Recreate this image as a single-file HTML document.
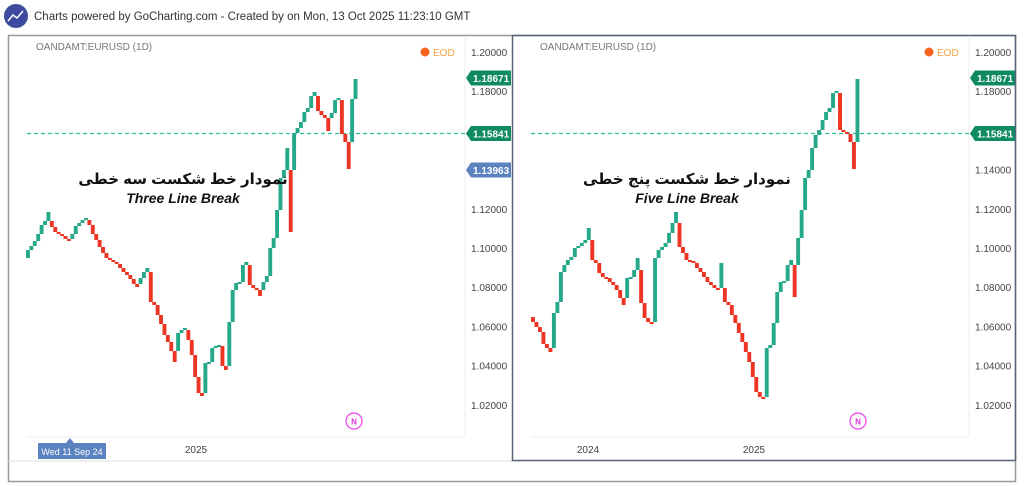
<!DOCTYPE html>
<html><head><meta charset="utf-8"><style>
body{margin:0;background:#fff;width:1024px;height:486px;overflow:hidden}
svg{display:block}
text{font-family:"Liberation Sans","DejaVu Sans",sans-serif}
</style></head><body>
<svg id="s" width="1024" height="486" xmlns="http://www.w3.org/2000/svg">
<rect width="1024" height="486" fill="#fff"/>
<circle cx="16" cy="16" r="12" fill="#3d4aa0"/>
<polyline points="8,21 13,15 17,18 23,11" fill="none" stroke="#fff" stroke-width="1.5"/>
<text x="34" y="20" font-size="11.5" fill="#333">Charts powered by GoCharting.com - Created by  on Mon, 13 Oct 2025 11:23:10 GMT</text>
<rect x="8.5" y="35.5" width="1007" height="446" fill="none" stroke="#999" stroke-width="1.5"/>
<line x1="8" y1="461" x2="1016" y2="461" stroke="#ddd"/>
<rect x="512.5" y="35.5" width="503" height="425" fill="none" stroke="#5a6478" stroke-width="1.5"/>
<g id="L"></g><g id="R"></g>
</svg>
<script>
var NS="http://www.w3.org/2000/svg";
function el(p,t,a,txt){var e=document.createElementNS(NS,t);for(var k in a)e.setAttribute(k,a[k]);if(txt)e.textContent=txt;p.appendChild(e);return e;}
function Y(p){return 52+(1.2-p)/0.02*39.2;}
function panel(g,ox,plotR,data,start,x0,x1,fa,en,xlabels){
 el(g,"line",{x1:plotR,y1:36,x2:plotR,y2:437,stroke:"#eee"});
 el(g,"line",{x1:ox+19,y1:437,x2:plotR,y2:437,stroke:"#eee"});
 [1.2,1.18,1.16,1.14,1.12,1.1,1.08,1.06,1.04,1.02].forEach(function(p){
  el(g,"text",{x:plotR+6,y:Y(p)+4,"font-size":10,fill:"#444"},p.toFixed(5));});
 el(g,"text",{x:ox+28,y:50,"font-size":10,fill:"#777"},"OANDAMT:EURUSD (1D)");
 el(g,"circle",{cx:ox+417,cy:52,r:4.5,fill:"#f7651e"});
 el(g,"text",{x:ox+425,y:56,"font-size":10,fill:"#f3a33a"},"EOD");
 el(g,"line",{x1:ox+19,y1:133.5,x2:plotR,y2:133.5,stroke:"#2fbf9c","stroke-width":1.2,"stroke-dasharray":"4,3"});
 var n=data.length,step=(x1-x0)/n,prevOpen=start,prevClose=start,dir=0;
 for(var i=0;i<n;i++){
  var c=data[i],d=c<prevClose?1:-1,o;
  if(dir!==0&&d!==dir)o=prevOpen;else o=prevClose;
  d=c<o?1:-1;
  var x=x0+i*step;
  el(g,"rect",{x:x,y:Math.min(o,c),width:3.9,height:Math.max(2,Math.abs(c-o)),fill:d==1?"#26a98b":"#ee3524"});
  prevOpen=o;prevClose=c;dir=d;}
 function lab(y,t,col){el(g,"polygon",{points:(plotR+1)+","+y+" "+(plotR+6)+","+(y-7.5)+" "+(plotR+46)+","+(y-7.5)+" "+(plotR+46)+","+(y+7.5)+" "+(plotR+6)+","+(y+7.5),fill:col});
  el(g,"text",{x:plotR+8,y:y+4,"font-size":10,fill:"#fff","font-weight":"bold"},t);}
 lab(78,"1.18671","#0f8a63");lab(133.5,"1.15841","#0f8a63");
 el(g,"circle",{cx:ox+346,cy:421,r:8,fill:"none",stroke:"#f03cf0","stroke-width":1.2});
 el(g,"text",{x:ox+346,y:424.5,"font-size":8,fill:"#e030e0","text-anchor":"middle","font-weight":"bold"},"N");
 el(g,"text",{x:ox+175,y:184,"font-size":15,"font-weight":"bold","text-anchor":"middle",fill:"#111","font-family":"DejaVu Sans,sans-serif"},fa);
 el(g,"text",{x:ox+175,y:203,"font-size":14,"font-weight":"bold","font-style":"italic","text-anchor":"middle",fill:"#111"},en);
 xlabels.forEach(function(l){el(g,"text",{x:l[0],y:453,"font-size":10,fill:"#444","text-anchor":"middle"},l[1]);});
}
var L=[250,246,241,234,225,221,212,227,232,234,236,239,241,234,226,223,220,218,225,234,240,247,253,258,260,262,264,268,272,275,279,284,287,278,272,268,302,305,315,324,335,342,351,362,333,330,328,340,355,377,393,396,363,362,348,346,345,366,370,322,290,283,282,265,262,285,288,290,296,282,276,248,238,210,178,170,148,232,133,128,122,112,108,96,92,111,115,118,131,113,100,98,134,142,169,99,79];
var R=[322,327,332,344,348,352,313,302,272,265,260,257,248,246,243,240,228,260,263,273,277,278,282,285,290,298,305,278,277,270,258,303,318,322,323,258,250,247,243,233,223,212,247,253,260,261,263,268,272,277,282,285,288,290,263,302,305,315,323,333,342,352,362,377,392,397,398,348,345,323,292,282,281,265,260,297,238,210,178,170,148,135,130,120,112,108,93,91,130,132,134,142,169,79];
var gl=document.getElementById("L"),gr=document.getElementById("R");
panel(gl,8,465,L,258,26,357,"نمودار خط شکست سه خطی","Three Line Break",[[196,"2025"]]);
el(gl,"polygon",{points:"466,170 471,162.5 511,162.5 511,177.5 471,177.5",fill:"#5b83c0"});
el(gl,"text",{x:473,y:174,"font-size":10,fill:"#fff","font-weight":"bold"},"1.13963");
el(gl,"rect",{x:38,y:443,width:68,height:16,fill:"#5b83c0"});
el(gl,"polygon",{points:"66,443 70,438 74,443",fill:"#5b83c0"});
el(gl,"text",{x:72,y:455,"font-size":9,fill:"#fff","text-anchor":"middle"},"Wed 11 Sep 24");
panel(gr,512,969,R,317,531,859,"نمودار خط شکست پنج خطی","Five Line Break",[[588,"2024"],[754,"2025"]]);
</script>
</body></html>
